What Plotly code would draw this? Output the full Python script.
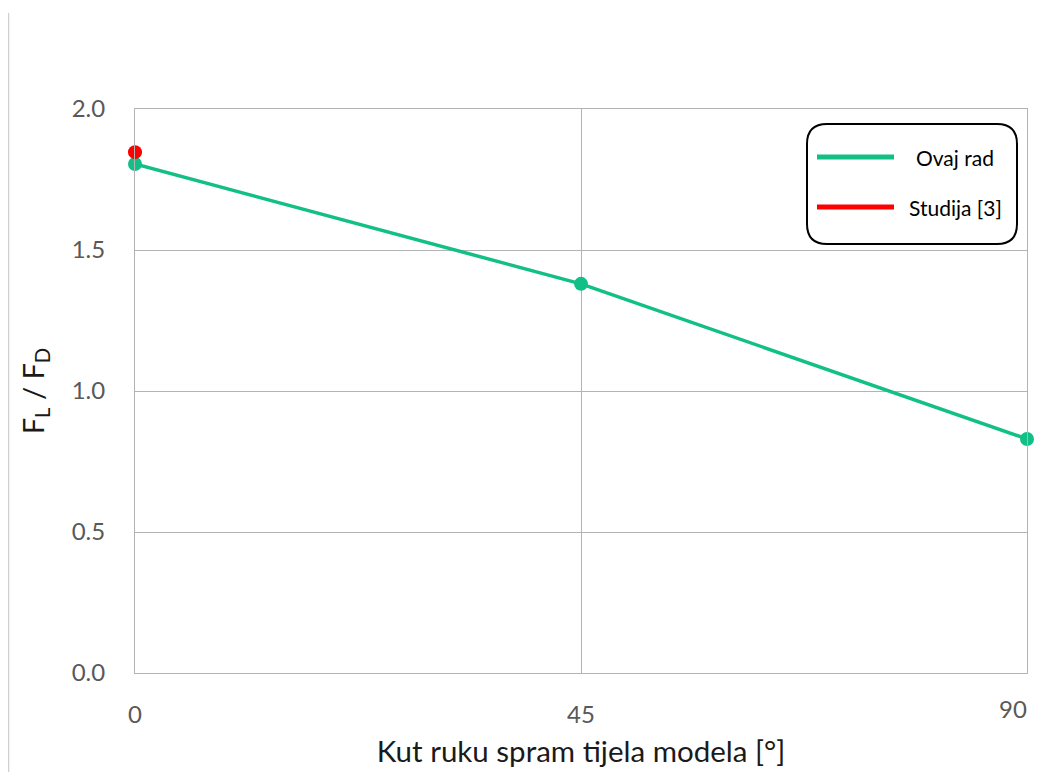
import plotly.graph_objects as go

# Data
angles = [0, 45, 90]
ovaj_rad = [1.805, 1.38, 0.83]
studija_x = [0]
studija_y = [1.847]
x_ticks_main = [0, 45]
x_tick_end = [90]
y_ticks = [0.0, 0.5, 1.0, 1.5, 2.0]
y_tick_labels = ["0.0", "0.5", "1.0", "1.5", "2.0"]
series_names = ["Ovaj rad", "Studija [3]"]
series_colors = ["#12BF86", "#FF0000"]

# page body keeps its default 8px margin, so the figure is laid out 8px in
OFF = 8
W, H = 1043 - 2 * OFF, 780 - 2 * OFF
L, R, T, B = 135 - OFF, 8, 109 - OFF, 780 - 673 - OFF
PW, PH = W - L - R, H - T - B


def px(xp):
    return (xp - OFF - L) / PW


def py(yp):
    return (H - B - (yp - OFF)) / PH


fig = go.Figure()
fig.add_trace(go.Scatter(x=angles, y=ovaj_rad, mode="lines+markers", name=series_names[0],
                         line=dict(color=series_colors[0], width=3.5), cliponaxis=False,
                         marker=dict(size=14, color=series_colors[0]), showlegend=False))
fig.add_trace(go.Scatter(x=studija_x, y=studija_y, mode="markers", name=series_names[1],
                         cliponaxis=False, xaxis="x2",
                         marker=dict(size=14, color=series_colors[1]), showlegend=False))

grid = "#b3b3b3"
tickfont = dict(family="Lato", size=24, color="#595959")
fig.update_layout(
    xaxis=dict(range=[0, 90], tickvals=x_ticks_main + x_tick_end, ticktext=["0", "45", ""],
               showgrid=True, gridcolor=grid, gridwidth=1,
               zeroline=False, showline=True, linecolor=grid, mirror=True,
               ticks="", ticklabelstandoff=20, tickfont=tickfont,
               title=dict(text="Kut ruku spram tijela modela [°]", standoff=14,
                          font=dict(family="Lato", size=29.5, color="#1a1a1a"))),
    xaxis2=dict(range=[0, 90], overlaying="x", anchor="y", side="bottom", matches="x",
                tickvals=x_tick_end, ticktext=["90"], showgrid=False, zeroline=False,
                showline=False, ticks="", ticklabelstandoff=20, ticklabelshift=-14,
                tickfont=tickfont),
    yaxis=dict(range=[0, 2.0], tickvals=y_ticks, ticktext=y_tick_labels, showgrid=True,
               gridcolor=grid, gridwidth=1, zeroline=False, showline=True, linecolor=grid,
               mirror=True, ticks="", ticklabelstandoff=24, tickfont=tickfont,
               title=dict(text="F<sub>L</sub> / F<sub>D</sub>", standoff=18,
                          font=dict(family="Lato", size=29, color="#1a1a1a"))),
)

# left border line of the picture
fig.add_shape(type="line", xref="paper", yref="paper", x0=px(8.5), x1=px(8.5), y0=py(772), y1=py(13),
              line=dict(color="#d0d0d0", width=1.5), layer="above")

# rounded legend box
x0, x1, y0, y1, r = px(807), px(1017), py(124), py(244), 20
rx, ry = r / PW, r / PH
path = (f"M {x0+rx},{y0} L {x1-rx},{y0} Q {x1},{y0} {x1},{y0-ry} "
        f"L {x1},{y1+ry} Q {x1},{y1} {x1-rx},{y1} L {x0+rx},{y1} "
        f"Q {x0},{y1} {x0},{y1+ry} L {x0},{y0-ry} Q {x0},{y0} {x0+rx},{y0} Z")
fig.add_shape(type="path", path=path, xref="paper", yref="paper",
              line=dict(color="#000000", width=2), fillcolor="white", layer="above")

legend_rows = [157, 207]
for name, color, yrow in zip(series_names, series_colors, legend_rows):
    fig.add_shape(type="line", xref="paper", yref="paper", x0=px(817), x1=px(894),
                  y0=py(yrow), y1=py(yrow), line=dict(color=color, width=5), layer="above")
    fig.add_annotation(xref="paper", yref="paper", x=px(955), y=py(yrow), text=name,
                       showarrow=False, xanchor="center", yanchor="middle",
                       font=dict(family="Lato", size=21, color="#000000"))

fig.update_layout(width=W, height=H, margin=dict(l=L, r=R, t=T, b=B),
                  paper_bgcolor="white", plot_bgcolor="white", showlegend=False,
                  font=dict(family="Lato"))

fig.write_html("out.html", config={"displayModeBar": False})
